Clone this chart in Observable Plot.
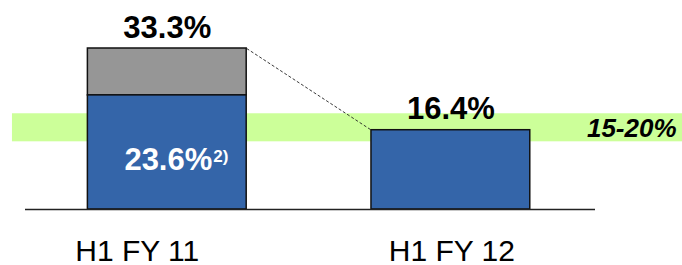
<!DOCTYPE html>
<html>
<head>
<meta charset="utf-8">
<script src="https://cdn.jsdelivr.net/npm/d3@7"></script>
<script src="https://cdn.jsdelivr.net/npm/@observablehq/plot@0.6"></script>
<style>
  html, body { margin: 0; padding: 0; background: #fff; }
  svg { display: block; }
</style>
</head>
<body>
<div id="chart"></div>
<script>
// ---- data ----
const categories = ["H1 FY 11", "H1 FY 12"];
const baseValues = [23.6, 16.4];          // blue part
const topValues = [33.3, 16.4];           // total incl. grey part
const baseLabels = ["23.6%", null];
const baseNotes = ["2)", null];
const totalLabels = ["33.3%", "16.4%"];
const targetLow = 14;                     // visual extent of the green target band
const targetHigh = 19.8;
const targetLabel = "15-20%";

// ---- derived table ----
const barHalf = 0.28;
const rows = categories.map((c, i) => ({
  cat: c, i,
  base: baseValues[i], total: topValues[i],
  baseLabel: baseLabels[i], baseNote: baseNotes[i], totalLabel: totalLabels[i]
}));
const band = [{x1: -0.546, x2: 1.817, y1: targetLow, y2: targetHigh, label: targetLabel}];
const link = [{x1: 0 + barHalf, y1: topValues[0], x2: 1 - barHalf, y2: topValues[1]}];

const blue = "#3465a9", grey = "#969696", green = "#ccff99";
const font = "Arial, 'Liberation Sans', sans-serif";

const chart = Plot.plot({
  width: 682,
  height: 265,
  marginLeft: 25,
  marginRight: 87,
  marginTop: 48,
  marginBottom: 56,
  x: {type: "linear", domain: [-0.5, 1.51], axis: null},
  y: {domain: [0, 33.3], axis: null},
  style: {fontFamily: font, background: "#fff", overflow: "visible"},
  marks: [
    Plot.rect(band, {x1: "x1", x2: "x2", y1: "y1", y2: "y2", fill: green}),
    // grey top segment
    Plot.rect(rows.filter(d => d.total > d.base), {
      x1: d => d.i - barHalf, x2: d => d.i + barHalf,
      y1: "base", y2: "total", fill: grey, stroke: "#111", strokeWidth: 1.5
    }),
    // blue base
    Plot.rect(rows, {
      x1: d => d.i - barHalf, x2: d => d.i + barHalf,
      y1: 0, y2: "base", fill: blue, stroke: "#111", strokeWidth: 1.5
    }),
    Plot.ruleY([0], {x1: -0.5, x2: 1.51, stroke: "#222", strokeWidth: 1.5}),
    Plot.link(link, {x1: "x1", y1: "y1", x2: "x2", y2: "y2", stroke: "#222", strokeWidth: 0.9, strokeDasharray: "3,2"}),
    // total labels
    Plot.text(rows, {
      x: "i", y: "total", text: "totalLabel", lineAnchor: "top", dy: -33,
      fontSize: 31, fontWeight: "bold", fill: "#000"
    }),
    // inside label
    Plot.text(rows.filter(d => d.baseLabel), {
      x: "i", y: "base", text: "baseLabel", textAnchor: "end", lineAnchor: "top",
      dx: 45, dy: 53, fontSize: 31, fontWeight: "bold", fill: "#fff"
    }),
    Plot.text(rows.filter(d => d.baseNote), {
      x: "i", y: "base", text: "baseNote", textAnchor: "start", lineAnchor: "top",
      dx: 46, dy: 54.5, fontSize: 17, fontWeight: "bold", fill: "#fff"
    }),
    // category labels
    Plot.text(rows.filter(d => d.i === 0), {
      x: "i", y: 0, text: "cat", lineAnchor: "top", dy: 30.5, dx: -30,
      fontSize: 30, fill: "#000"
    }),
    Plot.text(rows.filter(d => d.i === 1), {
      x: "i", y: 0, text: "cat", lineAnchor: "top", dy: 30.5, dx: 1,
      fontSize: 30, fill: "#000"
    }),
    // target label
    Plot.text(band, {
      x: "x2", y: d => (d.y1 + d.y2) / 2, text: "label", textAnchor: "end",
      dx: -6, dy: 1, fontSize: 26, fontWeight: "bold", fontStyle: "italic", fill: "#000"
    })
  ]
});
document.getElementById("chart").appendChild(chart);
</script>
</body>
</html>
